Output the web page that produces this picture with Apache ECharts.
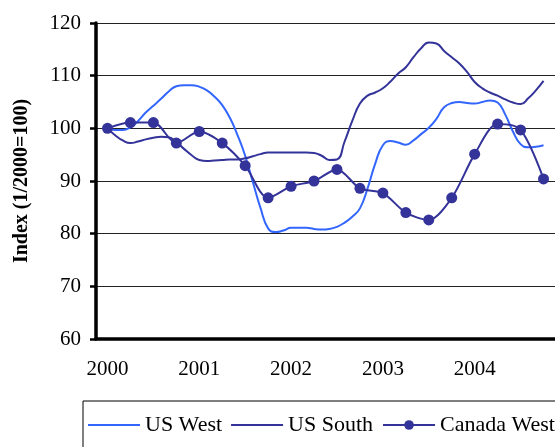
<!DOCTYPE html>
<html>
<head>
<meta charset="utf-8">
<title>Index</title>
<script src="https://cdn.jsdelivr.net/npm/echarts@6/dist/echarts.min.js"></script>
<style>
    html, body { margin: 0; padding: 0; background: #fff; }
    #chart { width: 555px; height: 447px; }
</style>
</head>
<body>
<div id="chart"></div>
<script>
    // year labels, monthly slots 2000-01 .. 2004-12
    const years = ['2000', '2001', '2002', '2003', '2004'];

    // monthly index values, Feb 2000 .. Nov 2004
    const usWest = [
        100.0, 99.7, 99.7, 100.2, 101.4, 103.0, 104.3, 105.6, 107.0, 108.0, 108.2, 108.2,
        107.9, 107.2, 106.0, 104.4, 102.0, 98.7, 94.8, 89.8, 84.9, 81.0, 80.3, 80.6,
        81.1, 81.1, 81.1, 80.9, 80.8, 80.9, 81.3, 82.1, 83.2, 84.8, 88.6, 93.3,
        96.8, 97.6, 97.3, 96.9, 97.7, 98.9, 100.1, 101.8, 104.0, 104.8, 105.0, 104.8,
        104.7, 105.0, 105.3, 104.9, 102.6, 99.4, 97.0, 96.4, 96.5, 96.8
    ];
    const usSouth = [
        100.0, 98.7, 97.7, 97.2, 97.5, 97.9, 98.2, 98.4, 98.3, 97.4, 96.1, 94.9,
        94.0, 93.8, 93.9, 94.0, 94.1, 94.1, 94.3, 94.7, 95.1, 95.4, 95.4, 95.4,
        95.4, 95.4, 95.4, 95.3, 94.8, 94.0, 94.1, 97.5, 101.4, 104.7, 106.2, 106.8,
        107.6, 108.9, 110.4, 111.6, 113.5, 115.2, 116.3, 116.1, 114.7, 113.5, 112.3, 110.7,
        108.8, 107.6, 106.8, 106.2, 105.5, 104.9, 104.6, 105.7, 107.2, 109.0
    ];
    // quarterly (mid-quarter) values
    const canadaWest = [
        100.0, 101.1, 101.1, 97.2, 99.4, 97.2, 92.9, 86.8, 89.0, 90.0,
        92.2, 88.6, 87.7, 84.0, 82.6, 86.8, 95.1, 100.8, 99.7, 90.4
    ];

    let months = [];
    years.forEach(function (y) {
        for (let m = 1; m <= 12; m++) {
            months.push(y + '-' + (m < 10 ? '0' + m : m));
        }
    });

    // put the data on the month slots
    let westData = [null].concat(usWest, [null]);
    let southData = [null].concat(usSouth, [null]);
    let canadaData = months.map(function () { return null; });
    canadaWest.forEach(function (v, i) {
        canadaData[1 + i * 3] = v;
    });

    const serif = '"Liberation Serif", "Times New Roman", serif';
    // plain line for legend items without markers
    const lineIcon = 'path://M0,0 L52,0 L52,2 L0,2 Z';

    const chart = echarts.init(document.getElementById('chart'));

    chart.setOption({
        animation: false,
        backgroundColor: '#fff',
        textStyle: { fontFamily: serif, color: '#000' },
        grid: {
            left: 96,
            right: 0,
            top: 23,
            bottom: 108
        },
        legend: {
            left: 83,
            top: 401,
            width: 560,
            padding: [13, 30, 30, 5],
            borderColor: '#000',
            borderWidth: 1,
            itemWidth: 52,
            itemHeight: 12,
            itemGap: 9,
            textStyle: { fontFamily: serif, fontSize: 22, color: '#000' },
            data: [
                { name: 'US West', icon: lineIcon },
                { name: 'US South', icon: lineIcon },
                'Canada West'
            ]
        },
        xAxis: {
            type: 'category',
            data: months,
            boundaryGap: true,
            axisLine: { lineStyle: { color: '#000', width: 3.5 } },
            axisTick: {
                length: 6,
                lineStyle: { color: '#000', width: 2.5 },
                interval: function (index) { return index % 6 === 0; }
            },
            axisLabel: {
                fontFamily: serif,
                fontSize: 21,
                color: '#000',
                margin: 20,
                interval: function (index) { return index % 12 === 1; },
                formatter: function (value) { return value.slice(0, 4); }
            },
            splitLine: { show: false }
        },
        yAxis: {
            type: 'value',
            min: 60,
            max: 120,
            interval: 10,
            name: 'Index (1/2000=100)',
            nameLocation: 'middle',
            nameGap: 64,
            nameTextStyle: { fontFamily: serif, fontSize: 20, fontWeight: 'bold', color: '#000' },
            axisLine: { show: true, lineStyle: { color: '#000', width: 3.5 } },
            axisTick: { show: true, length: 6, lineStyle: { color: '#000', width: 2.5 } },
            axisLabel: { fontFamily: serif, fontSize: 21, color: '#000', margin: 15 },
            splitLine: { lineStyle: { color: '#222', width: 1 } }
        },
        series: [
            {
                name: 'US West',
                type: 'line',
                data: westData,
                smooth: true,
                symbol: 'none',
                lineStyle: { color: '#3366FF', width: 2 },
                itemStyle: { color: '#3366FF' }
            },
            {
                name: 'US South',
                type: 'line',
                data: southData,
                smooth: true,
                symbol: 'none',
                lineStyle: { color: '#333399', width: 2 },
                itemStyle: { color: '#333399' }
            },
            {
                name: 'Canada West',
                type: 'line',
                data: canadaData,
                connectNulls: true,
                smooth: 0.3,
                symbol: 'circle',
                symbolSize: 11,
                showAllSymbol: true,
                lineStyle: { color: '#333399', width: 2 },
                itemStyle: { color: '#333399' }
            }
        ]
    });
</script>
</body>
</html>
